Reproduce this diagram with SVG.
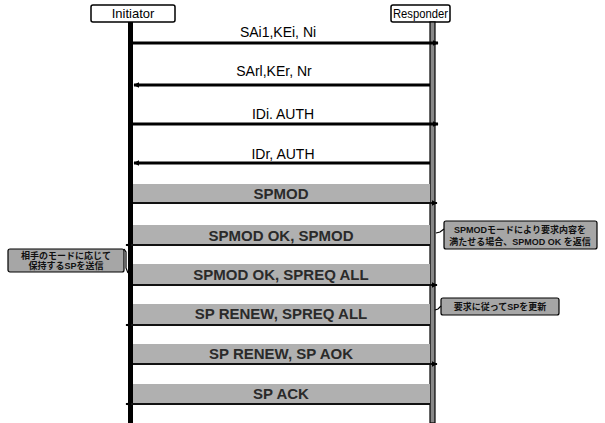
<svg xmlns="http://www.w3.org/2000/svg" width="605" height="423" viewBox="0 0 605 423">
<style>
.actor{fill:#fff;stroke:#000;stroke-width:1.5}
.atext{font-family:"Liberation Sans",Arial,sans-serif;font-size:13px;fill:#000}
.msg{stroke:#000;stroke-width:3;fill:none}
.mtext{font-family:"Liberation Sans",Arial,sans-serif;font-size:14px;fill:#000;text-anchor:middle}
.band{fill:#b0b0b0}
.bline{stroke:#111;stroke-width:2;fill:none}
.btext{font-family:"Liberation Sans",Arial,sans-serif;font-size:15px;font-weight:bold;fill:#2a2a2a;text-anchor:middle}
.note{fill:#a6a6a6;stroke:#000;stroke-width:1.2}
.ntext{font-family:"Liberation Sans","Noto Sans CJK JP",sans-serif;font-size:9px;font-weight:bold;fill:#111;text-anchor:middle}
.ptr{stroke:#000;stroke-width:1.2;fill:none}
</style>
<defs>
<marker id="ah" viewBox="0 0 10 10" refX="9" refY="5" markerWidth="6" markerHeight="6" orient="auto-start-reverse" markerUnits="userSpaceOnUse">
<path d="M0,0 L10,5 L0,10 z" fill="#000"/>
</marker>
</defs>

<g id="initiator">
<rect class="actor" x="91" y="5" width="84" height="17" rx="2"/>
<text class="atext" x="133" y="18" text-anchor="middle">Initiator</text>
<rect x="128" y="22" width="5" height="401" fill="#000"/>
</g>
<g id="responder">
<rect class="actor" x="391" y="5" width="59" height="17" rx="2"/>
<text class="atext" x="420.5" y="18" text-anchor="middle" textLength="55" lengthAdjust="spacingAndGlyphs">Responder</text>
<rect x="430" y="22" width="5" height="401" fill="#888" stroke="#000" stroke-width="1.2"/>
</g>

<g id="connectors">
<line class="msg" x1="133" y1="43" x2="438" y2="43" marker-end="url(#ah)"/>
<line class="msg" x1="430" y1="85" x2="134" y2="85" marker-end="url(#ah)"/>
<line class="msg" x1="133" y1="124" x2="438" y2="124" marker-end="url(#ah)"/>
<line class="msg" x1="430" y1="163" x2="134" y2="163" marker-end="url(#ah)"/>
</g>

<g id="m1"><text class="mtext" x="278" y="37">SAi1,KEi, Ni</text></g>
<g id="m2"><text class="mtext" x="274" y="76">SArl,KEr, Nr</text></g>
<g id="m3"><text class="mtext" x="283" y="119">IDi. AUTH</text></g>
<g id="m4"><text class="mtext" x="283" y="159">IDr, AUTH</text></g>

<g id="b1">
<rect class="band" x="133" y="184" width="297" height="19"/>
<line class="bline" x1="133" y1="203" x2="437" y2="203" marker-end="url(#ah)"/>
<text class="btext" x="281" y="199">SPMOD</text>
</g>
<g id="b2">
<rect class="band" x="133" y="225" width="297" height="20"/>
<line class="bline" x1="430" y1="245" x2="126" y2="245" marker-end="url(#ah)"/>
<text class="btext" x="281" y="241">SPMOD OK, SPMOD</text>
</g>
<g id="b3">
<rect class="band" x="133" y="264" width="297" height="21"/>
<line class="bline" x1="133" y1="285" x2="437" y2="285" marker-end="url(#ah)"/>
<text class="btext" x="281" y="280">SPMOD OK, SPREQ ALL</text>
</g>
<g id="b4">
<rect class="band" x="133" y="304" width="297" height="21"/>
<line class="bline" x1="430" y1="325" x2="126" y2="325" marker-end="url(#ah)"/>
<text class="btext" x="281" y="319">SP RENEW, SPREQ ALL</text>
</g>
<g id="b5">
<rect class="band" x="133" y="344" width="297" height="20"/>
<line class="bline" x1="133" y1="364" x2="437" y2="364" marker-end="url(#ah)"/>
<text class="btext" x="281" y="359">SP RENEW, SP AOK</text>
</g>
<g id="b6">
<rect class="band" x="133" y="384" width="297" height="20"/>
<line class="bline" x1="430" y1="404" x2="126" y2="404" marker-end="url(#ah)"/>
<text class="btext" x="281" y="399">SP ACK</text>
</g>

<g id="note1">
<rect class="note" x="444" y="221" width="153" height="28" rx="2"/>
<text class="ntext" x="520" y="233">SPMODモードにより要求内容を</text>
<text class="ntext" x="520" y="245">満たせる場合、SPMOD OK を返信</text>
<path class="ptr" d="M444,229 L440,232 L436,233"/>
</g>
<g id="note2">
<rect class="note" x="8" y="249" width="116" height="23" rx="2"/>
<text class="ntext" x="66" y="259">相手のモードに応じて</text>
<text class="ntext" x="66" y="269">保持するSPを送信</text>
<path class="ptr" d="M124,249 L126,252 L126,268 L128,273"/>
</g>
<g id="note3">
<rect class="note" x="441" y="298" width="118" height="17" rx="2"/>
<text class="ntext" x="500" y="310">要求に従ってSPを更新</text>
<path class="ptr" d="M441,306 L438,309 L435,310"/>
</g>
</svg>
